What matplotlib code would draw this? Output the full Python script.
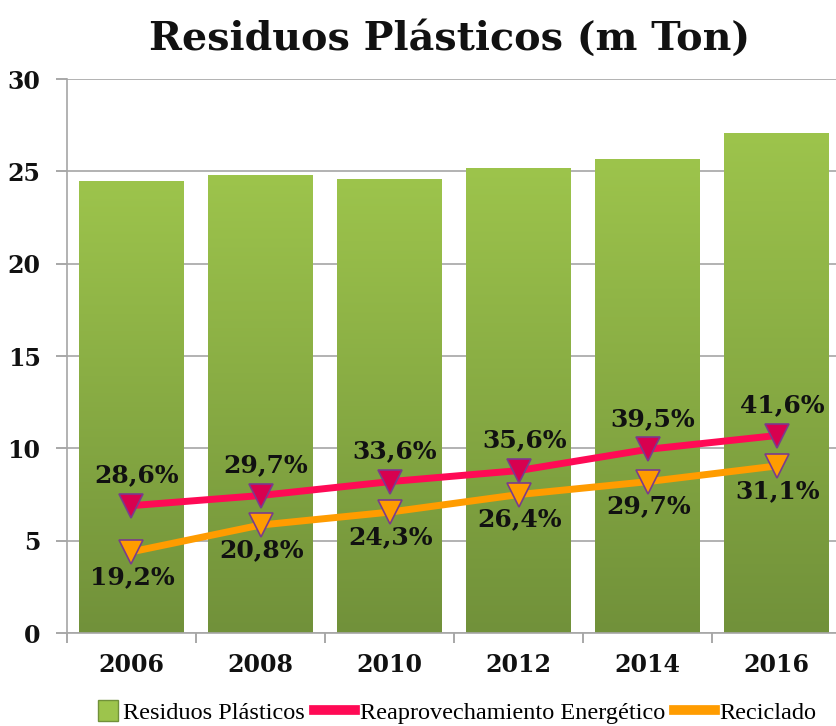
import numpy as np
import matplotlib.pyplot as plt
from matplotlib.colors import LinearSegmentedColormap
from matplotlib.lines import Line2D
from matplotlib.patches import Patch, Rectangle
from matplotlib.legend_handler import HandlerPatch

## DATOS

anios = ["2006", "2008", "2010", "2012", "2014", "2016"]
residuos = [24.5, 24.8, 24.6, 25.2, 25.7, 27.1]
reaprovechamiento = [6.9, 7.45, 8.2, 8.8, 9.95, 10.7]
reciclado = [4.4, 5.85, 6.55, 7.5, 8.2, 9.05]
etiq_reaprov = ["28,6%", "29,7%", "33,6%", "35,6%", "39,5%", "41,6%"]
etiq_recic = ["19,2%", "20,8%", "24,3%", "26,4%", "29,7%", "31,1%"]

## ESTILO

fuente = "DejaVu Serif"
verde_claro = "#9dc44c"
verde_oscuro = "#71913a"
rojo = "#ff0a55"
rojo_marca = "#d8004f"
naranja = "#ff9c00"
borde_marca = "#7a3c8c"

fig = plt.figure(figsize=(8.37, 7.26), dpi=100)
ax = fig.add_axes([0.080, 0.128, 0.925, 0.763])

x = np.arange(len(anios))
ancho = 0.81

# barras con degradado vertical
degradado = LinearSegmentedColormap.from_list("verde", [verde_oscuro, verde_claro])
barras = ax.bar(x, residuos, width=ancho, color="none", edgecolor="none", zorder=2)
grad = np.linspace(0, 1, 256).reshape(-1, 1)
for b in barras:
    x0, y0 = b.get_x(), b.get_y()
    w, h = b.get_width(), b.get_height()
    im = ax.imshow(grad, cmap=degradado, origin="lower", aspect="auto",
                   extent=[x0, x0 + w, y0, y0 + h], zorder=2)
    im.set_clip_path(b)

# lineas
ax.plot(x, reaprovechamiento, color=rojo, lw=5, marker="v", ms=17,
        markerfacecolor=rojo_marca, markeredgecolor=borde_marca, mew=1.2, zorder=4)
ax.plot(x, reciclado, color=naranja, lw=5, marker="v", ms=17,
        markerfacecolor=naranja, markeredgecolor=borde_marca, mew=1.2, zorder=4)

for xi, yi, t in zip(x, reaprovechamiento, etiq_reaprov):
    ax.annotate(t, (xi, yi), xytext=(4, 22), textcoords="offset points",
                ha="center", va="center", fontsize=18, fontweight="bold",
                family=fuente, color="#111111", zorder=5)
for xi, yi, t in zip(x, reciclado, etiq_recic):
    ax.annotate(t, (xi, yi), xytext=(1, -18), textcoords="offset points",
                ha="center", va="center", fontsize=18, fontweight="bold",
                family=fuente, color="#111111", zorder=5)

## EJES

ax.set_xlim(-0.5, len(anios) - 0.5)
ax.set_ylim(0, 30)
ax.set_yticks(range(0, 31, 5))
ax.set_xticks(x)
ax.set_xticklabels(anios)
ax.set_xticks(np.arange(-0.5, len(anios), 1), minor=True)
ax.tick_params(axis="x", which="major", length=0, pad=14)
ax.tick_params(axis="x", which="minor", length=7, color="#999999", width=1.2)
ax.tick_params(axis="y", length=8, color="#999999", width=1.2, pad=11)
for lab in ax.get_xticklabels() + ax.get_yticklabels():
    lab.set_fontfamily(fuente)
    lab.set_fontweight("bold")
    lab.set_fontsize(17)
    lab.set_color("#111111")

ax.grid(axis="y", color="#a6a6a6", lw=1.2, zorder=0)
ax.set_axisbelow(True)
for lado in ["top", "right"]:
    ax.spines[lado].set_visible(False)
ax.spines["left"].set_color("#a6a6a6")
ax.spines["left"].set_linewidth(1.2)
ax.spines["bottom"].set_color("#a6a6a6")
ax.spines["bottom"].set_linewidth(1.2)

fig.text(0.537, 0.946, "Residuos Plásticos (m Ton)", ha="center", va="center",
         fontsize=28.5, fontweight="bold", family=fuente, color="#111111")

## LEYENDA

def cuadro(legend, orig_handle, xdescent, ydescent, width, height, fontsize):
    # marca cuadrada pegada al texto
    lado = height
    return Rectangle((-xdescent + width - lado, -ydescent), lado, lado)

elementos = [
    Patch(facecolor=verde_claro, edgecolor=verde_oscuro, label="Residuos Plásticos"),
    Line2D([0], [0], color=rojo, lw=7, label="Reaprovechamiento Energético"),
    Line2D([0], [0], color=naranja, lw=7, label="Reciclado"),
]
fig.legend(handles=elementos, loc="center", bbox_to_anchor=(0.534, 0.019), ncol=3,
           frameon=False, prop={"family": "Liberation Serif", "size": 17.5},
           handler_map={Patch: HandlerPatch(patch_func=cuadro)},
           handlelength=1.7, handleheight=0.9, handletextpad=0.2, columnspacing=0.35)

fig.savefig("out.png", dpi=100)
